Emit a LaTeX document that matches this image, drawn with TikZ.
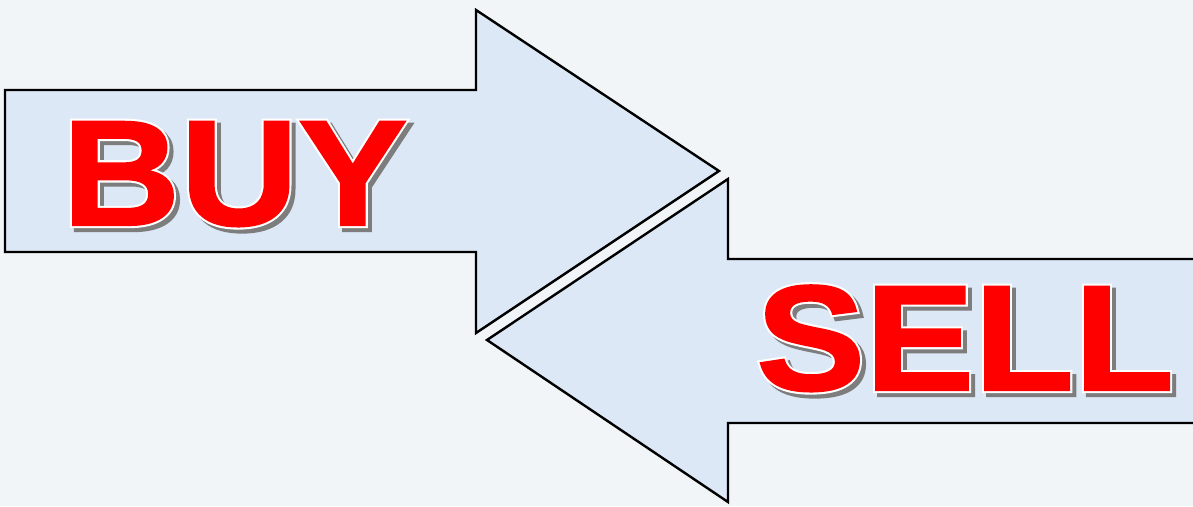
\documentclass[tikz,border=0pt]{standalone}
\usepackage{fontspec}
\setmainfont{Liberation Sans}
\newfontfamily\redfont[FakeStretch=1.09,FakeBold=1.4]{Liberation Sans Bold}
\newfontfamily\rimfont[FakeStretch=1.09,FakeBold=4.2]{Liberation Sans Bold}
\usetikzlibrary{positioning,calc}
\definecolor{paper}{RGB}{242,245,247}
\definecolor{arrowfill}{RGB}{220,232,245}
\definecolor{signred}{RGB}{255,0,0}
\definecolor{shadowgray}{RGB}{125,125,125}
% red word with white rim and grey drop shadow
\newcommand\signword[1]{\rlap{\kern4pt\raisebox{-4pt}{\color{shadowgray}\rimfont #1}}%
  \rlap{\color{white}\rimfont #1}{\color{signred}\redfont #1}}

\begin{document}
\begin{tikzpicture}[x=1pt,y=-1pt,
    arrowshape/.style={draw=black,line width=2.4pt,fill=arrowfill,line join=miter},
    signtext/.style={font=\fontsize{150}{150}\selectfont,inner sep=0pt,anchor=base west}]
\useasboundingbox (0,0) rectangle (1193,506);
\clip (0,0) rectangle (1193,506);
\fill[paper] (0,0) rectangle (1193,506);

% arrows
\draw[arrowshape] (5,90) -- (476,90) -- (476,10) -- (719,171) -- (476,333) -- (476,252) -- (5,252) -- cycle;
\draw[arrowshape] (1210,259) -- (728,259) -- (728,179) -- (487,340) -- (728,502) -- (728,423) -- (1210,423) -- cycle;

% words
\node (buy) [signtext] at (62,225) {\signword{BUY}};
\node (sell) [signtext] at (756,390) {\signword{SELL}};
\end{tikzpicture}
\end{document}
